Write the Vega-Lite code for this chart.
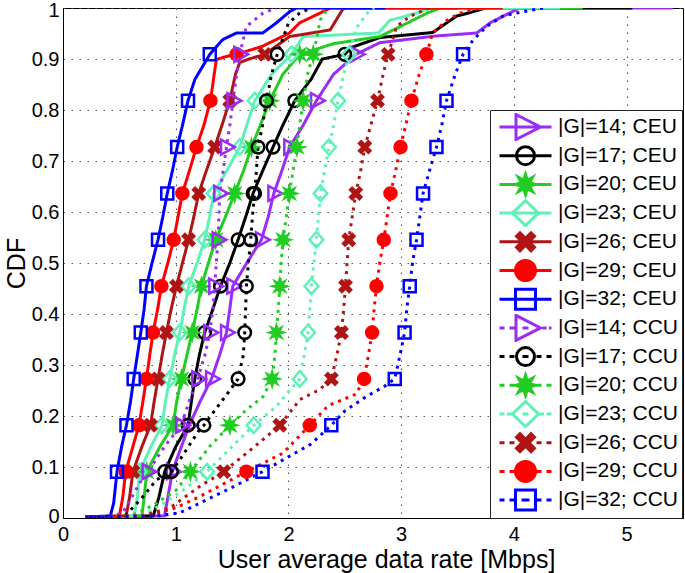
{
"$schema":"https://vega.github.io/schema/vega-lite/v6.json",
"width":620,"height":510,
"autosize":{"type":"none"},
"padding":{"left":63,"top":8,"right":2,"bottom":55},
"config":{"view":{"stroke":"#000","strokeWidth":1},"font":"Liberation Sans"},
"data":{"values":[
{"s":"|G|=14; CEU","x":0.2,"y":0.002},{"s":"|G|=14; CEU","x":0.9,"y":0.004},{"s":"|G|=14; CEU","x":0.93,"y":0.04},{"s":"|G|=14; CEU","x":0.97,"y":0.0909,"m":1},{"s":"|G|=14; CEU","x":1.05,"y":0.14},{"s":"|G|=14; CEU","x":1.12,"y":0.1818,"m":1},{"s":"|G|=14; CEU","x":1.22,"y":0.23},{"s":"|G|=14; CEU","x":1.317,"y":0.2727,"m":1},{"s":"|G|=14; CEU","x":1.39,"y":0.32},{"s":"|G|=14; CEU","x":1.45,"y":0.3636,"m":1},{"s":"|G|=14; CEU","x":1.48,"y":0.41},{"s":"|G|=14; CEU","x":1.506,"y":0.4545,"m":1},{"s":"|G|=14; CEU","x":1.63,"y":0.5},{"s":"|G|=14; CEU","x":1.76,"y":0.5455,"m":1},{"s":"|G|=14; CEU","x":1.82,"y":0.59},{"s":"|G|=14; CEU","x":1.87,"y":0.6364,"m":1},{"s":"|G|=14; CEU","x":1.94,"y":0.68},{"s":"|G|=14; CEU","x":2.011,"y":0.7273,"m":1},{"s":"|G|=14; CEU","x":2.13,"y":0.77},{"s":"|G|=14; CEU","x":2.248,"y":0.8182,"m":1},{"s":"|G|=14; CEU","x":2.4,"y":0.87},{"s":"|G|=14; CEU","x":2.6,"y":0.9091,"m":1},{"s":"|G|=14; CEU","x":2.81,"y":0.932},{"s":"|G|=14; CEU","x":3.3,"y":0.945},{"s":"|G|=14; CEU","x":3.67,"y":0.951},{"s":"|G|=14; CEU","x":3.79,"y":0.971},{"s":"|G|=14; CEU","x":3.97,"y":0.991},{"s":"|G|=14; CEU","x":4.05,"y":1},{"s":"|G|=14; CEU","x":5.41,"y":1},
{"s":"|G|=17; CEU","x":0.2,"y":0.002},{"s":"|G|=17; CEU","x":0.8,"y":0.004},{"s":"|G|=17; CEU","x":0.85,"y":0.04},{"s":"|G|=17; CEU","x":0.902,"y":0.0909,"m":1},{"s":"|G|=17; CEU","x":1.0,"y":0.14},{"s":"|G|=17; CEU","x":1.109,"y":0.1818,"m":1},{"s":"|G|=17; CEU","x":1.14,"y":0.23},{"s":"|G|=17; CEU","x":1.169,"y":0.2727,"m":1},{"s":"|G|=17; CEU","x":1.21,"y":0.32},{"s":"|G|=17; CEU","x":1.257,"y":0.3636,"m":1},{"s":"|G|=17; CEU","x":1.33,"y":0.41},{"s":"|G|=17; CEU","x":1.397,"y":0.4545,"m":1},{"s":"|G|=17; CEU","x":1.48,"y":0.5},{"s":"|G|=17; CEU","x":1.553,"y":0.5455,"m":1},{"s":"|G|=17; CEU","x":1.62,"y":0.59},{"s":"|G|=17; CEU","x":1.686,"y":0.6364,"m":1},{"s":"|G|=17; CEU","x":1.77,"y":0.68},{"s":"|G|=17; CEU","x":1.863,"y":0.7273,"m":1},{"s":"|G|=17; CEU","x":1.95,"y":0.77},{"s":"|G|=17; CEU","x":2.056,"y":0.8182,"m":1},{"s":"|G|=17; CEU","x":2.2,"y":0.86},{"s":"|G|=17; CEU","x":2.3,"y":0.9},{"s":"|G|=17; CEU","x":2.5,"y":0.9091,"m":1},{"s":"|G|=17; CEU","x":2.55,"y":0.922},{"s":"|G|=17; CEU","x":2.81,"y":0.942},{"s":"|G|=17; CEU","x":3.28,"y":0.952},{"s":"|G|=17; CEU","x":3.49,"y":0.984},{"s":"|G|=17; CEU","x":3.61,"y":0.991},{"s":"|G|=17; CEU","x":3.75,"y":1},{"s":"|G|=17; CEU","x":5.05,"y":1},
{"s":"|G|=20; CEU","x":0.22,"y":0.002},{"s":"|G|=20; CEU","x":0.7,"y":0.004},{"s":"|G|=20; CEU","x":0.72,"y":0.04},{"s":"|G|=20; CEU","x":0.743,"y":0.0909,"m":1},{"s":"|G|=20; CEU","x":0.86,"y":0.14},{"s":"|G|=20; CEU","x":0.976,"y":0.1818,"m":1},{"s":"|G|=20; CEU","x":1.01,"y":0.23},{"s":"|G|=20; CEU","x":1.051,"y":0.2727,"m":1},{"s":"|G|=20; CEU","x":1.1,"y":0.32},{"s":"|G|=20; CEU","x":1.146,"y":0.3636,"m":1},{"s":"|G|=20; CEU","x":1.19,"y":0.41},{"s":"|G|=20; CEU","x":1.228,"y":0.4545,"m":1},{"s":"|G|=20; CEU","x":1.29,"y":0.5},{"s":"|G|=20; CEU","x":1.355,"y":0.5455,"m":1},{"s":"|G|=20; CEU","x":1.44,"y":0.59},{"s":"|G|=20; CEU","x":1.523,"y":0.6364,"m":1},{"s":"|G|=20; CEU","x":1.6,"y":0.68},{"s":"|G|=20; CEU","x":1.672,"y":0.7273,"m":1},{"s":"|G|=20; CEU","x":1.75,"y":0.77},{"s":"|G|=20; CEU","x":1.834,"y":0.8182,"m":1},{"s":"|G|=20; CEU","x":1.95,"y":0.87},{"s":"|G|=20; CEU","x":2.1,"y":0.9091,"m":1},{"s":"|G|=20; CEU","x":2.4,"y":0.93},{"s":"|G|=20; CEU","x":2.81,"y":0.944},{"s":"|G|=20; CEU","x":3.05,"y":0.97},{"s":"|G|=20; CEU","x":3.23,"y":0.99},{"s":"|G|=20; CEU","x":3.35,"y":1},{"s":"|G|=20; CEU","x":4.61,"y":1},
{"s":"|G|=23; CEU","x":0.22,"y":0.002},{"s":"|G|=23; CEU","x":0.63,"y":0.004},{"s":"|G|=23; CEU","x":0.66,"y":0.04},{"s":"|G|=23; CEU","x":0.68,"y":0.0909,"m":1},{"s":"|G|=23; CEU","x":0.78,"y":0.14},{"s":"|G|=23; CEU","x":0.878,"y":0.1818,"m":1},{"s":"|G|=23; CEU","x":0.91,"y":0.23},{"s":"|G|=23; CEU","x":0.947,"y":0.2727,"m":1},{"s":"|G|=23; CEU","x":0.99,"y":0.32},{"s":"|G|=23; CEU","x":1.035,"y":0.3636,"m":1},{"s":"|G|=23; CEU","x":1.075,"y":0.41},{"s":"|G|=23; CEU","x":1.115,"y":0.4545,"m":1},{"s":"|G|=23; CEU","x":1.19,"y":0.5},{"s":"|G|=23; CEU","x":1.257,"y":0.5455,"m":1},{"s":"|G|=23; CEU","x":1.3,"y":0.59},{"s":"|G|=23; CEU","x":1.337,"y":0.6364,"m":1},{"s":"|G|=23; CEU","x":1.45,"y":0.68},{"s":"|G|=23; CEU","x":1.568,"y":0.7273,"m":1},{"s":"|G|=23; CEU","x":1.63,"y":0.77},{"s":"|G|=23; CEU","x":1.701,"y":0.8182,"m":1},{"s":"|G|=23; CEU","x":1.85,"y":0.87},{"s":"|G|=23; CEU","x":2.027,"y":0.9091,"m":1},{"s":"|G|=23; CEU","x":2.13,"y":0.944},{"s":"|G|=23; CEU","x":2.8,"y":0.951},{"s":"|G|=23; CEU","x":2.9,"y":0.976},{"s":"|G|=23; CEU","x":3.14,"y":0.99},{"s":"|G|=23; CEU","x":3.25,"y":1},{"s":"|G|=23; CEU","x":4.41,"y":1},
{"s":"|G|=26; CEU","x":0.22,"y":0.002},{"s":"|G|=26; CEU","x":0.56,"y":0.004},{"s":"|G|=26; CEU","x":0.59,"y":0.04},{"s":"|G|=26; CEU","x":0.621,"y":0.0909,"m":1},{"s":"|G|=26; CEU","x":0.7,"y":0.14},{"s":"|G|=26; CEU","x":0.776,"y":0.1818,"m":1},{"s":"|G|=26; CEU","x":0.81,"y":0.23},{"s":"|G|=26; CEU","x":0.843,"y":0.2727,"m":1},{"s":"|G|=26; CEU","x":0.88,"y":0.32},{"s":"|G|=26; CEU","x":0.917,"y":0.3636,"m":1},{"s":"|G|=26; CEU","x":0.96,"y":0.41},{"s":"|G|=26; CEU","x":1.006,"y":0.4545,"m":1},{"s":"|G|=26; CEU","x":1.06,"y":0.5},{"s":"|G|=26; CEU","x":1.114,"y":0.5455,"m":1},{"s":"|G|=26; CEU","x":1.16,"y":0.59},{"s":"|G|=26; CEU","x":1.204,"y":0.6364,"m":1},{"s":"|G|=26; CEU","x":1.27,"y":0.68},{"s":"|G|=26; CEU","x":1.346,"y":0.7273,"m":1},{"s":"|G|=26; CEU","x":1.41,"y":0.77},{"s":"|G|=26; CEU","x":1.479,"y":0.8182,"m":1},{"s":"|G|=26; CEU","x":1.53,"y":0.87},{"s":"|G|=26; CEU","x":1.568,"y":0.893},{"s":"|G|=26; CEU","x":1.65,"y":0.9},{"s":"|G|=26; CEU","x":1.79,"y":0.9091,"m":1},{"s":"|G|=26; CEU","x":2.01,"y":0.944},{"s":"|G|=26; CEU","x":2.37,"y":0.957},{"s":"|G|=26; CEU","x":2.48,"y":0.997},{"s":"|G|=26; CEU","x":2.5,"y":1},{"s":"|G|=26; CEU","x":3.5,"y":1},
{"s":"|G|=29; CEU","x":0.22,"y":0.002},{"s":"|G|=29; CEU","x":0.5,"y":0.004},{"s":"|G|=29; CEU","x":0.53,"y":0.04},{"s":"|G|=29; CEU","x":0.556,"y":0.0909,"m":1},{"s":"|G|=29; CEU","x":0.62,"y":0.14},{"s":"|G|=29; CEU","x":0.674,"y":0.1818,"m":1},{"s":"|G|=29; CEU","x":0.71,"y":0.23},{"s":"|G|=29; CEU","x":0.74,"y":0.2727,"m":1},{"s":"|G|=29; CEU","x":0.77,"y":0.32},{"s":"|G|=29; CEU","x":0.799,"y":0.3636,"m":1},{"s":"|G|=29; CEU","x":0.84,"y":0.41},{"s":"|G|=29; CEU","x":0.873,"y":0.4545,"m":1},{"s":"|G|=29; CEU","x":0.93,"y":0.5},{"s":"|G|=29; CEU","x":0.982,"y":0.5455,"m":1},{"s":"|G|=29; CEU","x":1.02,"y":0.59},{"s":"|G|=29; CEU","x":1.059,"y":0.6364,"m":1},{"s":"|G|=29; CEU","x":1.12,"y":0.68},{"s":"|G|=29; CEU","x":1.184,"y":0.7273,"m":1},{"s":"|G|=29; CEU","x":1.25,"y":0.77},{"s":"|G|=29; CEU","x":1.308,"y":0.8182,"m":1},{"s":"|G|=29; CEU","x":1.36,"y":0.899},{"s":"|G|=29; CEU","x":1.45,"y":0.905},{"s":"|G|=29; CEU","x":1.54,"y":0.9091,"m":1},{"s":"|G|=29; CEU","x":1.77,"y":0.925},{"s":"|G|=29; CEU","x":2.01,"y":0.951},{"s":"|G|=29; CEU","x":2.1,"y":0.971},{"s":"|G|=29; CEU","x":2.28,"y":0.99},{"s":"|G|=29; CEU","x":2.37,"y":1},{"s":"|G|=29; CEU","x":3.9,"y":1},
{"s":"|G|=32; CEU","x":0.2,"y":0.002},{"s":"|G|=32; CEU","x":0.42,"y":0.004},{"s":"|G|=32; CEU","x":0.45,"y":0.03},{"s":"|G|=32; CEU","x":0.479,"y":0.0909,"m":1},{"s":"|G|=32; CEU","x":0.52,"y":0.14},{"s":"|G|=32; CEU","x":0.563,"y":0.1818,"m":1},{"s":"|G|=32; CEU","x":0.6,"y":0.23},{"s":"|G|=32; CEU","x":0.627,"y":0.2727,"m":1},{"s":"|G|=32; CEU","x":0.66,"y":0.32},{"s":"|G|=32; CEU","x":0.69,"y":0.3636,"m":1},{"s":"|G|=32; CEU","x":0.72,"y":0.41},{"s":"|G|=32; CEU","x":0.74,"y":0.4545,"m":1},{"s":"|G|=32; CEU","x":0.79,"y":0.5},{"s":"|G|=32; CEU","x":0.843,"y":0.5455,"m":1},{"s":"|G|=32; CEU","x":0.885,"y":0.59},{"s":"|G|=32; CEU","x":0.925,"y":0.6364,"m":1},{"s":"|G|=32; CEU","x":0.97,"y":0.68},{"s":"|G|=32; CEU","x":1.013,"y":0.7273,"m":1},{"s":"|G|=32; CEU","x":1.06,"y":0.77},{"s":"|G|=32; CEU","x":1.109,"y":0.8182,"m":1},{"s":"|G|=32; CEU","x":1.17,"y":0.86},{"s":"|G|=32; CEU","x":1.302,"y":0.9091,"m":1},{"s":"|G|=32; CEU","x":1.417,"y":0.938},{"s":"|G|=32; CEU","x":1.539,"y":0.951},{"s":"|G|=32; CEU","x":1.772,"y":0.951},{"s":"|G|=32; CEU","x":1.894,"y":0.971},{"s":"|G|=32; CEU","x":2.011,"y":0.993},{"s":"|G|=32; CEU","x":2.07,"y":1},{"s":"|G|=32; CEU","x":2.86,"y":1},
{"s":"|G|=14; CCU","x":0.2,"y":0.002},{"s":"|G|=14; CCU","x":0.45,"y":0.004},{"s":"|G|=14; CCU","x":0.53,"y":0.01},{"s":"|G|=14; CCU","x":0.71,"y":0.08},{"s":"|G|=14; CCU","x":0.754,"y":0.0909,"m":1},{"s":"|G|=14; CCU","x":0.9,"y":0.14},{"s":"|G|=14; CCU","x":1.05,"y":0.1818,"m":1},{"s":"|G|=14; CCU","x":1.12,"y":0.23},{"s":"|G|=14; CCU","x":1.195,"y":0.2727,"m":1},{"s":"|G|=14; CCU","x":1.26,"y":0.32},{"s":"|G|=14; CCU","x":1.302,"y":0.3636,"m":1},{"s":"|G|=14; CCU","x":1.33,"y":0.41},{"s":"|G|=14; CCU","x":1.346,"y":0.4545,"m":1},{"s":"|G|=14; CCU","x":1.36,"y":0.5},{"s":"|G|=14; CCU","x":1.375,"y":0.5455,"m":1},{"s":"|G|=14; CCU","x":1.383,"y":0.59},{"s":"|G|=14; CCU","x":1.39,"y":0.6364,"m":1},{"s":"|G|=14; CCU","x":1.42,"y":0.68},{"s":"|G|=14; CCU","x":1.45,"y":0.7273,"m":1},{"s":"|G|=14; CCU","x":1.48,"y":0.77},{"s":"|G|=14; CCU","x":1.508,"y":0.8182,"m":1},{"s":"|G|=14; CCU","x":1.54,"y":0.87},{"s":"|G|=14; CCU","x":1.568,"y":0.9091,"m":1},{"s":"|G|=14; CCU","x":1.627,"y":0.964},{"s":"|G|=14; CCU","x":1.775,"y":0.99},{"s":"|G|=14; CCU","x":1.894,"y":1},
{"s":"|G|=17; CCU","x":0.2,"y":0.002},{"s":"|G|=17; CCU","x":0.55,"y":0.004},{"s":"|G|=17; CCU","x":0.71,"y":0.042},{"s":"|G|=17; CCU","x":0.83,"y":0.075},{"s":"|G|=17; CCU","x":0.962,"y":0.0909,"m":1},{"s":"|G|=17; CCU","x":1.036,"y":0.114},{"s":"|G|=17; CCU","x":1.21,"y":0.173},{"s":"|G|=17; CCU","x":1.25,"y":0.1818,"m":1},{"s":"|G|=17; CCU","x":1.33,"y":0.206},{"s":"|G|=17; CCU","x":1.479,"y":0.25},{"s":"|G|=17; CCU","x":1.553,"y":0.2727,"m":1},{"s":"|G|=17; CCU","x":1.6,"y":0.32},{"s":"|G|=17; CCU","x":1.612,"y":0.3636,"m":1},{"s":"|G|=17; CCU","x":1.62,"y":0.41},{"s":"|G|=17; CCU","x":1.627,"y":0.4545,"m":1},{"s":"|G|=17; CCU","x":1.645,"y":0.5},{"s":"|G|=17; CCU","x":1.665,"y":0.5455,"m":1},{"s":"|G|=17; CCU","x":1.68,"y":0.59},{"s":"|G|=17; CCU","x":1.7,"y":0.6364,"m":1},{"s":"|G|=17; CCU","x":1.715,"y":0.68},{"s":"|G|=17; CCU","x":1.73,"y":0.7273,"m":1},{"s":"|G|=17; CCU","x":1.77,"y":0.77},{"s":"|G|=17; CCU","x":1.805,"y":0.8182,"m":1},{"s":"|G|=17; CCU","x":1.85,"y":0.87},{"s":"|G|=17; CCU","x":1.9,"y":0.9091,"m":1},{"s":"|G|=17; CCU","x":1.95,"y":0.94},{"s":"|G|=17; CCU","x":2.0,"y":0.97},{"s":"|G|=17; CCU","x":2.1,"y":0.99},{"s":"|G|=17; CCU","x":2.2,"y":1},
{"s":"|G|=20; CCU","x":0.2,"y":0.002},{"s":"|G|=20; CCU","x":0.6,"y":0.004},{"s":"|G|=20; CCU","x":0.8,"y":0.025},{"s":"|G|=20; CCU","x":1.006,"y":0.055},{"s":"|G|=20; CCU","x":1.13,"y":0.0909,"m":1},{"s":"|G|=20; CCU","x":1.3,"y":0.14},{"s":"|G|=20; CCU","x":1.48,"y":0.1818,"m":1},{"s":"|G|=20; CCU","x":1.627,"y":0.212},{"s":"|G|=20; CCU","x":1.775,"y":0.238},{"s":"|G|=20; CCU","x":1.855,"y":0.2727,"m":1},{"s":"|G|=20; CCU","x":1.88,"y":0.32},{"s":"|G|=20; CCU","x":1.893,"y":0.3636,"m":1},{"s":"|G|=20; CCU","x":1.91,"y":0.41},{"s":"|G|=20; CCU","x":1.923,"y":0.4545,"m":1},{"s":"|G|=20; CCU","x":1.935,"y":0.5},{"s":"|G|=20; CCU","x":1.952,"y":0.5455,"m":1},{"s":"|G|=20; CCU","x":1.98,"y":0.59},{"s":"|G|=20; CCU","x":2.008,"y":0.6364,"m":1},{"s":"|G|=20; CCU","x":2.04,"y":0.68},{"s":"|G|=20; CCU","x":2.075,"y":0.7273,"m":1},{"s":"|G|=20; CCU","x":2.1,"y":0.77},{"s":"|G|=20; CCU","x":2.13,"y":0.8182,"m":1},{"s":"|G|=20; CCU","x":2.17,"y":0.87},{"s":"|G|=20; CCU","x":2.22,"y":0.9091,"m":1},{"s":"|G|=20; CCU","x":2.26,"y":0.95},{"s":"|G|=20; CCU","x":2.28,"y":0.976},{"s":"|G|=20; CCU","x":2.35,"y":1},
{"s":"|G|=23; CCU","x":0.2,"y":0.002},{"s":"|G|=23; CCU","x":0.7,"y":0.004},{"s":"|G|=23; CCU","x":0.9,"y":0.03},{"s":"|G|=23; CCU","x":1.1,"y":0.06},{"s":"|G|=23; CCU","x":1.278,"y":0.0909,"m":1},{"s":"|G|=23; CCU","x":1.5,"y":0.14},{"s":"|G|=23; CCU","x":1.692,"y":0.1818,"m":1},{"s":"|G|=23; CCU","x":1.894,"y":0.219},{"s":"|G|=23; CCU","x":2.04,"y":0.258},{"s":"|G|=23; CCU","x":2.1,"y":0.2727,"m":1},{"s":"|G|=23; CCU","x":2.14,"y":0.32},{"s":"|G|=23; CCU","x":2.174,"y":0.3636,"m":1},{"s":"|G|=23; CCU","x":2.19,"y":0.41},{"s":"|G|=23; CCU","x":2.204,"y":0.4545,"m":1},{"s":"|G|=23; CCU","x":2.225,"y":0.5},{"s":"|G|=23; CCU","x":2.248,"y":0.5455,"m":1},{"s":"|G|=23; CCU","x":2.265,"y":0.59},{"s":"|G|=23; CCU","x":2.284,"y":0.6364,"m":1},{"s":"|G|=23; CCU","x":2.32,"y":0.68},{"s":"|G|=23; CCU","x":2.36,"y":0.7273,"m":1},{"s":"|G|=23; CCU","x":2.4,"y":0.77},{"s":"|G|=23; CCU","x":2.44,"y":0.8182,"m":1},{"s":"|G|=23; CCU","x":2.49,"y":0.87},{"s":"|G|=23; CCU","x":2.538,"y":0.9091,"m":1},{"s":"|G|=23; CCU","x":2.6,"y":0.96},{"s":"|G|=23; CCU","x":2.7,"y":0.99},{"s":"|G|=23; CCU","x":2.76,"y":1},
{"s":"|G|=26; CCU","x":0.2,"y":0.002},{"s":"|G|=26; CCU","x":0.7,"y":0.004},{"s":"|G|=26; CCU","x":0.95,"y":0.02},{"s":"|G|=26; CCU","x":1.213,"y":0.062},{"s":"|G|=26; CCU","x":1.426,"y":0.0909,"m":1},{"s":"|G|=26; CCU","x":1.7,"y":0.14},{"s":"|G|=26; CCU","x":1.923,"y":0.1818,"m":1},{"s":"|G|=26; CCU","x":2.1,"y":0.232},{"s":"|G|=26; CCU","x":2.277,"y":0.252},{"s":"|G|=26; CCU","x":2.381,"y":0.2727,"m":1},{"s":"|G|=26; CCU","x":2.43,"y":0.32},{"s":"|G|=26; CCU","x":2.47,"y":0.3636,"m":1},{"s":"|G|=26; CCU","x":2.49,"y":0.41},{"s":"|G|=26; CCU","x":2.506,"y":0.4545,"m":1},{"s":"|G|=26; CCU","x":2.52,"y":0.5},{"s":"|G|=26; CCU","x":2.535,"y":0.5455,"m":1},{"s":"|G|=26; CCU","x":2.565,"y":0.59},{"s":"|G|=26; CCU","x":2.597,"y":0.6364,"m":1},{"s":"|G|=26; CCU","x":2.64,"y":0.68},{"s":"|G|=26; CCU","x":2.677,"y":0.7273,"m":1},{"s":"|G|=26; CCU","x":2.73,"y":0.77},{"s":"|G|=26; CCU","x":2.79,"y":0.8182,"m":1},{"s":"|G|=26; CCU","x":2.84,"y":0.87},{"s":"|G|=26; CCU","x":2.884,"y":0.9091,"m":1},{"s":"|G|=26; CCU","x":2.96,"y":0.964},{"s":"|G|=26; CCU","x":3.08,"y":0.984},{"s":"|G|=26; CCU","x":3.25,"y":1},
{"s":"|G|=29; CCU","x":0.2,"y":0.002},{"s":"|G|=29; CCU","x":0.75,"y":0.004},{"s":"|G|=29; CCU","x":1.0,"y":0.02},{"s":"|G|=29; CCU","x":1.213,"y":0.042},{"s":"|G|=29; CCU","x":1.627,"y":0.0909,"m":1},{"s":"|G|=29; CCU","x":1.95,"y":0.127},{"s":"|G|=29; CCU","x":2.189,"y":0.1818,"m":1},{"s":"|G|=29; CCU","x":2.35,"y":0.22},{"s":"|G|=29; CCU","x":2.6,"y":0.243},{"s":"|G|=29; CCU","x":2.671,"y":0.2727,"m":1},{"s":"|G|=29; CCU","x":2.71,"y":0.32},{"s":"|G|=29; CCU","x":2.742,"y":0.3636,"m":1},{"s":"|G|=29; CCU","x":2.76,"y":0.41},{"s":"|G|=29; CCU","x":2.781,"y":0.4545,"m":1},{"s":"|G|=29; CCU","x":2.81,"y":0.5},{"s":"|G|=29; CCU","x":2.846,"y":0.5455,"m":1},{"s":"|G|=29; CCU","x":2.875,"y":0.59},{"s":"|G|=29; CCU","x":2.905,"y":0.6364,"m":1},{"s":"|G|=29; CCU","x":2.95,"y":0.68},{"s":"|G|=29; CCU","x":2.994,"y":0.7273,"m":1},{"s":"|G|=29; CCU","x":3.04,"y":0.77},{"s":"|G|=29; CCU","x":3.091,"y":0.8182,"m":1},{"s":"|G|=29; CCU","x":3.16,"y":0.87},{"s":"|G|=29; CCU","x":3.224,"y":0.9091,"m":1},{"s":"|G|=29; CCU","x":3.28,"y":0.951},{"s":"|G|=29; CCU","x":3.4,"y":0.975},{"s":"|G|=29; CCU","x":3.52,"y":0.99},{"s":"|G|=29; CCU","x":3.7,"y":1},
{"s":"|G|=32; CCU","x":0.2,"y":0.002},{"s":"|G|=32; CCU","x":0.83,"y":0.004},{"s":"|G|=32; CCU","x":1.036,"y":0.01},{"s":"|G|=32; CCU","x":1.213,"y":0.029},{"s":"|G|=32; CCU","x":1.5,"y":0.06},{"s":"|G|=32; CCU","x":1.77,"y":0.0909,"m":1},{"s":"|G|=32; CCU","x":2.0,"y":0.12},{"s":"|G|=32; CCU","x":2.2,"y":0.145},{"s":"|G|=32; CCU","x":2.38,"y":0.1818,"m":1},{"s":"|G|=32; CCU","x":2.5,"y":0.21},{"s":"|G|=32; CCU","x":2.69,"y":0.238},{"s":"|G|=32; CCU","x":2.85,"y":0.258},{"s":"|G|=32; CCU","x":2.943,"y":0.2727,"m":1},{"s":"|G|=32; CCU","x":2.99,"y":0.32},{"s":"|G|=32; CCU","x":3.03,"y":0.3636,"m":1},{"s":"|G|=32; CCU","x":3.05,"y":0.41},{"s":"|G|=32; CCU","x":3.076,"y":0.4545,"m":1},{"s":"|G|=32; CCU","x":3.1,"y":0.5},{"s":"|G|=32; CCU","x":3.136,"y":0.5455,"m":1},{"s":"|G|=32; CCU","x":3.165,"y":0.59},{"s":"|G|=32; CCU","x":3.194,"y":0.6364,"m":1},{"s":"|G|=32; CCU","x":3.25,"y":0.68},{"s":"|G|=32; CCU","x":3.313,"y":0.7273,"m":1},{"s":"|G|=32; CCU","x":3.36,"y":0.77},{"s":"|G|=32; CCU","x":3.402,"y":0.8182,"m":1},{"s":"|G|=32; CCU","x":3.48,"y":0.87},{"s":"|G|=32; CCU","x":3.549,"y":0.9091,"m":1},{"s":"|G|=32; CCU","x":3.64,"y":0.938},{"s":"|G|=32; CCU","x":3.76,"y":0.964},{"s":"|G|=32; CCU","x":3.9,"y":0.984},{"s":"|G|=32; CCU","x":4.02,"y":0.99},{"s":"|G|=32; CCU","x":4.26,"y":1}
]},
"encoding":{
"x":{"field":"x","type":"quantitative","scale":{"domain":[0,5.5],"nice":false,"zero":false},
"axis":{"title":"User average data rate [Mbps]","values":[0,1,2,3,4,5],"format":"~g","grid":true,"gridDash":[1.5,6.5],"gridColor":"#555","gridOpacity":1,"ticks":false,"tickSize":0,"labelPadding":6,"labelFontSize":20,"labelFont":"Liberation Sans","labelColor":"#000","titleFontSize":25,"titleFont":"Liberation Sans","titleFontWeight":"normal","titleColor":"#000","titlePadding":3,"titleX":323,"domainColor":"#000","labelFlush":false}},
"y":{"field":"y","type":"quantitative","scale":{"domain":[0,1],"nice":false},
"axis":{"title":"CDF","values":[0,0.1,0.2,0.3,0.4,0.5,0.6,0.7,0.8,0.9,1],"format":"~g","grid":true,"gridDash":[1.5,6.5],"gridColor":"#555","gridOpacity":1,"ticks":false,"tickSize":0,"labelPadding":4,"labelFontSize":20,"labelFont":"Liberation Sans","labelColor":"#000","titleFontSize":25,"titleFont":"Liberation Sans","titleFontWeight":"normal","titleColor":"#000","titlePadding":2,"domainColor":"#000","labelFlush":true,"labelFlushOffset":8}}
},
"resolve":{"scale":{"stroke":"independent","fill":"independent","shape":"independent","strokeDash":"independent"},"legend":{"stroke":"independent","fill":"independent","shape":"independent","strokeDash":"independent"}},
"layer":[
{"mark":{"type":"line","strokeWidth":3,"clip":true,"strokeCap":"butt"},
"encoding":{
"stroke":{"field":"s","type":"nominal","legend":null,"scale":{"domain":["|G|=14; CEU","|G|=17; CEU","|G|=20; CEU","|G|=23; CEU","|G|=26; CEU","|G|=29; CEU","|G|=32; CEU","|G|=14; CCU","|G|=17; CCU","|G|=20; CCU","|G|=23; CCU","|G|=26; CCU","|G|=29; CCU","|G|=32; CCU"],"range":["#9a2cf5","#000000","#22cc22","#5ef2b8","#b01515","#ff0000","#0000ff","#9a2cf5","#000000","#22cc22","#5ef2b8","#b01515","#ff0000","#0000ff"]}},
"strokeDash":{"field":"s","type":"nominal","legend":null,"scale":{"domain":["|G|=14; CEU","|G|=17; CEU","|G|=20; CEU","|G|=23; CEU","|G|=26; CEU","|G|=29; CEU","|G|=32; CEU","|G|=14; CCU","|G|=17; CCU","|G|=20; CCU","|G|=23; CCU","|G|=26; CCU","|G|=29; CCU","|G|=32; CCU"],"range":[[1,0],[1,0],[1,0],[1,0],[1,0],[1,0],[1,0],[3,5],[3,5],[3,5],[3,5],[3,5],[3,5],[3,5]]}}
}},
{"transform":[{"filter":"datum.m == 1"}],
"mark":{"type":"point","size":144,"strokeWidth":2.5,"opacity":1,"clip":true},
"encoding":{
"stroke":{"field":"s","type":"nominal","legend":null,"scale":{"domain":["|G|=14; CEU","|G|=17; CEU","|G|=20; CEU","|G|=23; CEU","|G|=26; CEU","|G|=29; CEU","|G|=32; CEU","|G|=14; CCU","|G|=17; CCU","|G|=20; CCU","|G|=23; CCU","|G|=26; CCU","|G|=29; CCU","|G|=32; CCU"],"range":["#9a2cf5","#000000","#22cc22","#5ef2b8","#b01515","#ff0000","#0000ff","#9a2cf5","#000000","#22cc22","#5ef2b8","#b01515","#ff0000","#0000ff"]}},
"fill":{"field":"s","type":"nominal","legend":null,"scale":{"domain":["|G|=14; CEU","|G|=17; CEU","|G|=20; CEU","|G|=23; CEU","|G|=26; CEU","|G|=29; CEU","|G|=32; CEU","|G|=14; CCU","|G|=17; CCU","|G|=20; CCU","|G|=23; CCU","|G|=26; CCU","|G|=29; CCU","|G|=32; CCU"],"range":["transparent","transparent","#22cc22","transparent","#b01515","#ff0000","transparent","transparent","transparent","#22cc22","transparent","#b01515","#ff0000","transparent"]}},
"shape":{"field":"s","type":"nominal","legend":null,"scale":{"domain":["|G|=14; CEU","|G|=17; CEU","|G|=20; CEU","|G|=23; CEU","|G|=26; CEU","|G|=29; CEU","|G|=32; CEU","|G|=14; CCU","|G|=17; CCU","|G|=20; CCU","|G|=23; CCU","|G|=26; CCU","|G|=29; CCU","|G|=32; CCU"],"range":[
"M-0.9,-1.25L1.4,0L-0.9,1.25Z",
"M1.05,0A1.05,1.05,0,1,1,-1.05,0A1.05,1.05,0,1,1,1.05,0Z",
"M1.1,0L0.46,0.19L0.78,0.78L0.19,0.46L0,1.1L-0.19,0.46L-0.78,0.78L-0.46,0.19L-1.1,0L-0.46,-0.19L-0.78,-0.78L-0.19,-0.46L0,-1.1L0.19,-0.46L0.78,-0.78L0.46,-0.19Z",
"M0,-1.3L1.15,0L0,1.3L-1.15,0Z",
"M-0.95,-0.6L-0.6,-0.95L0,-0.35L0.6,-0.95L0.95,-0.6L0.35,0L0.95,0.6L0.6,0.95L0,0.35L-0.6,0.95L-0.95,0.6L-0.35,0Z",
"M1,0A1,1,0,1,1,-1,0A1,1,0,1,1,1,0Z",
"M-1,-1L1,-1L1,1L-1,1Z",
"M-0.9,-1.25L1.4,0L-0.9,1.25Z",
"M1.05,0A1.05,1.05,0,1,1,-1.05,0A1.05,1.05,0,1,1,1.05,0Z",
"M1.1,0L0.46,0.19L0.78,0.78L0.19,0.46L0,1.1L-0.19,0.46L-0.78,0.78L-0.46,0.19L-1.1,0L-0.46,-0.19L-0.78,-0.78L-0.19,-0.46L0,-1.1L0.19,-0.46L0.78,-0.78L0.46,-0.19Z",
"M0,-1.3L1.15,0L0,1.3L-1.15,0Z",
"M-0.95,-0.6L-0.6,-0.95L0,-0.35L0.6,-0.95L0.95,-0.6L0.35,0L0.95,0.6L0.6,0.95L0,0.35L-0.6,0.95L-0.95,0.6L-0.35,0Z",
"M1,0A1,1,0,1,1,-1,0A1,1,0,1,1,1,0Z",
"M-1,-1L1,-1L1,1L-1,1Z"]}}
}},
{"transform":[{"filter":"datum.m == 9"}],
"mark":{"type":"point","size":400,"strokeWidth":3,"opacity":1},
"encoding":{
"stroke":{"field":"s","type":"nominal","legend":{"title":null,"orient":"none","legendX":427,"legendY":102,"padding":3,"fillColor":"#fff","strokeColor":"#222","symbolSize":400,"symbolStrokeWidth":3,"symbolOffset":21,"labelOffset":21,"labelFontSize":21,"labelFont":"Liberation Sans","labelColor":"#000","clipHeight":28,"rowPadding":0.7,"labelLimit":220},"scale":{"domain":["|G|=14; CEU","|G|=17; CEU","|G|=20; CEU","|G|=23; CEU","|G|=26; CEU","|G|=29; CEU","|G|=32; CEU","|G|=14; CCU","|G|=17; CCU","|G|=20; CCU","|G|=23; CCU","|G|=26; CCU","|G|=29; CCU","|G|=32; CCU"],"range":["#9a2cf5","#000000","#22cc22","#5ef2b8","#b01515","#ff0000","#0000ff","#9a2cf5","#000000","#22cc22","#5ef2b8","#b01515","#ff0000","#0000ff"]}},
"fill":{"field":"s","type":"nominal","legend":{"title":null,"orient":"none","legendX":427,"legendY":102,"padding":3,"fillColor":"#fff","strokeColor":"#222","symbolSize":400,"symbolStrokeWidth":3,"symbolOffset":21,"labelOffset":21,"labelFontSize":21,"labelFont":"Liberation Sans","labelColor":"#000","clipHeight":28,"rowPadding":0.7,"labelLimit":220},"scale":{"domain":["|G|=14; CEU","|G|=17; CEU","|G|=20; CEU","|G|=23; CEU","|G|=26; CEU","|G|=29; CEU","|G|=32; CEU","|G|=14; CCU","|G|=17; CCU","|G|=20; CCU","|G|=23; CCU","|G|=26; CCU","|G|=29; CCU","|G|=32; CCU"],"range":["transparent","transparent","#22cc22","transparent","#b01515","#ff0000","transparent","transparent","transparent","#22cc22","transparent","#b01515","#ff0000","transparent"]}},
"shape":{"field":"s","type":"nominal","legend":{"title":null,"orient":"none","legendX":427,"legendY":102,"padding":3,"fillColor":"#fff","strokeColor":"#222","symbolSize":400,"symbolStrokeWidth":3,"symbolOffset":21,"labelOffset":21,"labelFontSize":21,"labelFont":"Liberation Sans","labelColor":"#000","clipHeight":28,"rowPadding":0.7,"labelLimit":220},"scale":{"domain":["|G|=14; CEU","|G|=17; CEU","|G|=20; CEU","|G|=23; CEU","|G|=26; CEU","|G|=29; CEU","|G|=32; CEU","|G|=14; CCU","|G|=17; CCU","|G|=20; CCU","|G|=23; CCU","|G|=26; CCU","|G|=29; CCU","|G|=32; CCU"],"range":[
"M-2.6,0L2.6,0M-0.95,-1.25L1.5,0L-0.95,1.25Z",
"M-2.6,0L2.6,0M0.9,0A0.9,0.9,0,1,1,-0.9,0A0.9,0.9,0,1,1,0.9,0Z",
"M-2.6,0L2.6,0M1,0L0.416,0.172L0.707,0.707L0.172,0.416L0,1L-0.172,0.416L-0.707,0.707L-0.416,0.172L-1,0L-0.416,-0.172L-0.707,-0.707L-0.172,-0.416L0,-1L0.172,-0.416L0.707,-0.707L0.416,-0.172Z",
"M-2.6,0L2.6,0M0,-1.25L1.3,0L0,1.25L-1.3,0Z",
"M-2.6,0L2.6,0M-0.9,-0.55L-0.55,-0.9L0,-0.35L0.55,-0.9L0.9,-0.55L0.35,0L0.9,0.55L0.55,0.9L0,0.35L-0.55,0.9L-0.9,0.55L-0.35,0Z",
"M-2.6,0L2.6,0M1,0A1,1,0,1,1,-1,0A1,1,0,1,1,1,0Z",
"M-2.6,0L2.6,0M-1,-1L1,-1L1,1L-1,1Z",
"M-2.6,0L-2.1,0M-1.6,0L-1.1,0M1.7,0L2.1,0M2.35,0L2.6,0M-0.3,0L0.3,0M-0.95,-1.25L1.5,0L-0.95,1.25Z",
"M-2.6,0L-2.1,0M-1.6,0L-1.1,0M1.1,0L1.6,0M2.1,0L2.6,0M-0.3,0L0.3,0M0.9,0A0.9,0.9,0,1,1,-0.9,0A0.9,0.9,0,1,1,0.9,0Z",
"M-2.6,0L-2.1,0M-1.6,0L-1.1,0M1.1,0L1.6,0M2.1,0L2.6,0M1,0L0.416,0.172L0.707,0.707L0.172,0.416L0,1L-0.172,0.416L-0.707,0.707L-0.416,0.172L-1,0L-0.416,-0.172L-0.707,-0.707L-0.172,-0.416L0,-1L0.172,-0.416L0.707,-0.707L0.416,-0.172Z",
"M-2.6,0L-2.1,0M-1.85,0L-1.4,0M1.4,0L1.85,0M2.1,0L2.6,0M-0.3,0L0.3,0M0,-1.25L1.3,0L0,1.25L-1.3,0Z",
"M-2.6,0L-2.1,0M-1.6,0L-1.1,0M1.1,0L1.6,0M2.1,0L2.6,0M-0.9,-0.55L-0.55,-0.9L0,-0.35L0.55,-0.9L0.9,-0.55L0.35,0L0.9,0.55L0.55,0.9L0,0.35L-0.55,0.9L-0.9,0.55L-0.35,0Z",
"M-2.6,0L-2.1,0M-1.6,0L-1.1,0M1.1,0L1.6,0M2.1,0L2.6,0M1,0A1,1,0,1,1,-1,0A1,1,0,1,1,1,0Z",
"M-2.6,0L-2.1,0M-1.6,0L-1.1,0M1.1,0L1.6,0M2.1,0L2.6,0M-0.4,0L0.4,0M-1,-1L1,-1L1,1L-1,1Z"]}}
}}
]
}
